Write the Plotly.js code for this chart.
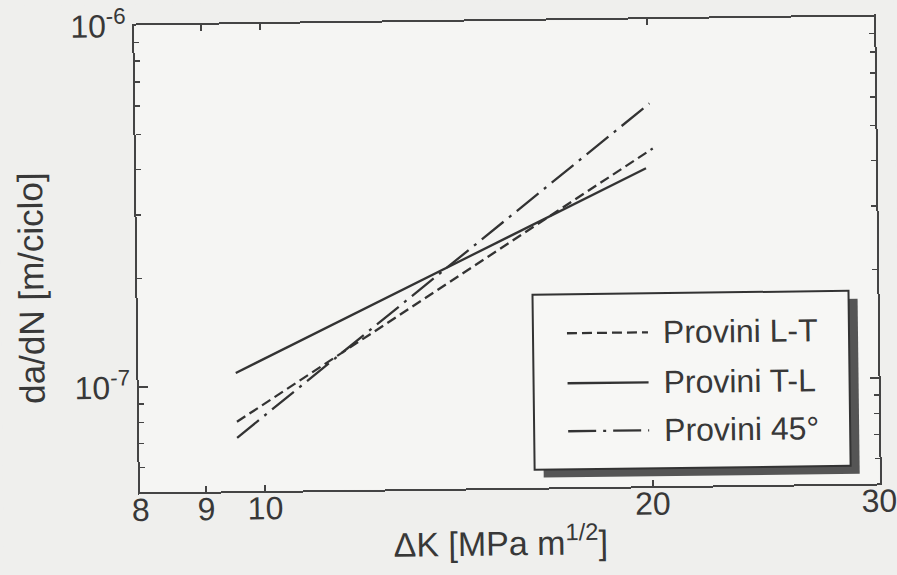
<!DOCTYPE html>
<html><head><meta charset="utf-8">
<script src="https://cdn.plot.ly/plotly-3.0.1.min.js"></script>
<style>
html,body{margin:0;padding:0;background:#efefed;overflow:hidden;}
#chart{width:897px;height:575px;transform:rotate(-0.7deg);transform-origin:507px 254px;}
</style></head><body><div id="chart"></div>
<script>
// ---- data ----
const deltaK_LT = [9.52, 20.15];
const dadN_LT   = [7.97e-8, 4.40e-7];
const deltaK_TL = [9.51, 19.9];
const dadN_TL   = [1.088e-7, 3.88e-7];
const deltaK_45 = [9.52, 20.05];
const dadN_45   = [7.20e-8, 5.86e-7];
const seriesNames = ['Provini L-T', 'Provini T-L', 'Provini 45°'];
const xTickVals = [8, 9, 10, 20, 30];
const xTickText = ['8', '9', '10', '20', '30'];
const yTickVals = [1e-7, 1e-6];
const yTickText = ['10<sup>-7</sup>', '10<sup>-6</sup>'];
const yMinorVals = [6e-8, 7e-8, 8e-8, 9e-8, 2e-7, 3e-7, 4e-7, 5e-7, 6e-7, 7e-7, 8e-7, 9e-7];
const xTitle = 'ΔK [MPa m<sup>1/2</sup>]';
const yTitle = 'da/dN [m/ciclo]';

// ---- layout helpers ----
const W = 897, H = 575, M = {l: 137, r: 20, t: 21, b: 87};
const pw = W - M.l - M.r, ph = H - M.t - M.b;
const px = x => (x - M.l) / pw;
const py = y => 1 - (y - M.t) / ph;
const FONT = '"Liberation Sans", Arial, Helvetica, sans-serif';
const INK = '#383838';

const traces = [
  {x: deltaK_LT, y: dadN_LT, name: seriesNames[0], mode: 'lines',
   line: {color: '#333', width: 2.3, dash: '10px,5px'}},
  {x: deltaK_TL, y: dadN_TL, name: seriesNames[1], mode: 'lines',
   line: {color: '#333', width: 2.3, dash: 'solid'}},
  {x: deltaK_45, y: dadN_45, name: seriesNames[2], mode: 'lines',
   line: {color: '#333', width: 2.3, dash: '28px,7px,3px,7px'}}
];

// legend box (drawn with shapes and annotations)
const shapes = [
  {type: 'rect', xref: 'paper', yref: 'paper', layer: 'above',
   x0: px(541), x1: px(857), y0: py(478), y1: py(303),
   fillcolor: '#555', line: {width: 0}},
  {type: 'rect', xref: 'paper', yref: 'paper', layer: 'above',
   x0: px(532), x1: px(848), y0: py(470), y1: py(295),
   fillcolor: '#f7f7f5', line: {color: '#333', width: 2}}
];
const annotations = [
  {text: xTitle, xref: 'paper', yref: 'paper', x: px(497), y: py(540),
   xanchor: 'center', yanchor: 'middle', showarrow: false,
   font: {family: FONT, size: 34, color: INK}},
  {text: yTitle, xref: 'paper', yref: 'paper', x: px(30), y: py(283),
   xanchor: 'center', yanchor: 'middle', textangle: -90, showarrow: false,
   font: {family: FONT, size: 35, color: INK}}
];
const rowY = [334, 384, 432];
traces.forEach((t, i) => {
  shapes.push({type: 'line', xref: 'paper', yref: 'paper', layer: 'above',
    x0: px(566), x1: px(647), y0: py(rowY[i]), y1: py(rowY[i]),
    line: {color: t.line.color, width: t.line.width, dash: t.line.dash}});
  annotations.push({text: t.name, xref: 'paper', yref: 'paper',
    x: px(660), y: py(rowY[i]), xanchor: 'left', yanchor: 'middle',
    showarrow: false, font: {family: FONT, size: 32, color: INK}});
});

const layout = {
  width: W, height: H,
  margin: M,
  paper_bgcolor: '#efefed',
  plot_bgcolor: '#f5f5f3',
  showlegend: false,
  font: {family: FONT, size: 32, color: INK},
  xaxis: {
    type: 'log', range: [Math.log10(7.99), Math.log10(30.03)],
    tickmode: 'array', tickvals: xTickVals, ticktext: xTickText,
    ticks: 'inside', ticklen: 6, tickwidth: 2, tickcolor: '#444',
    mirror: 'allticks', showline: true, linewidth: 2, linecolor: '#444',
    showgrid: false, zeroline: false, ticklabelstandoff: -12,
    ticklabeloverflow: 'allow',
    tickfont: {family: FONT, size: 32, color: INK}
  },
  yaxis: {
    type: 'log', range: [Math.log10(5.12e-8), Math.log10(1.002e-6)],
    tickmode: 'array', tickvals: yTickVals, ticktext: yTickText,
    ticks: 'inside', ticklen: 9, tickwidth: 2, tickcolor: '#444',
    mirror: 'allticks', showline: true, linewidth: 2, linecolor: '#444',
    showgrid: false, zeroline: false, ticklabeloverflow: 'allow',
    tickfont: {family: FONT, size: 32, color: INK},
    minor: {tickmode: 'array', tickvals: yMinorVals, ticks: 'inside',
            ticklen: 5, tickwidth: 1.5, tickcolor: '#444', showgrid: false}
  },
  shapes: shapes,
  annotations: annotations
};

Plotly.newPlot('chart', traces, layout, {staticPlot: true, displayModeBar: false});
</script>
</body></html>
